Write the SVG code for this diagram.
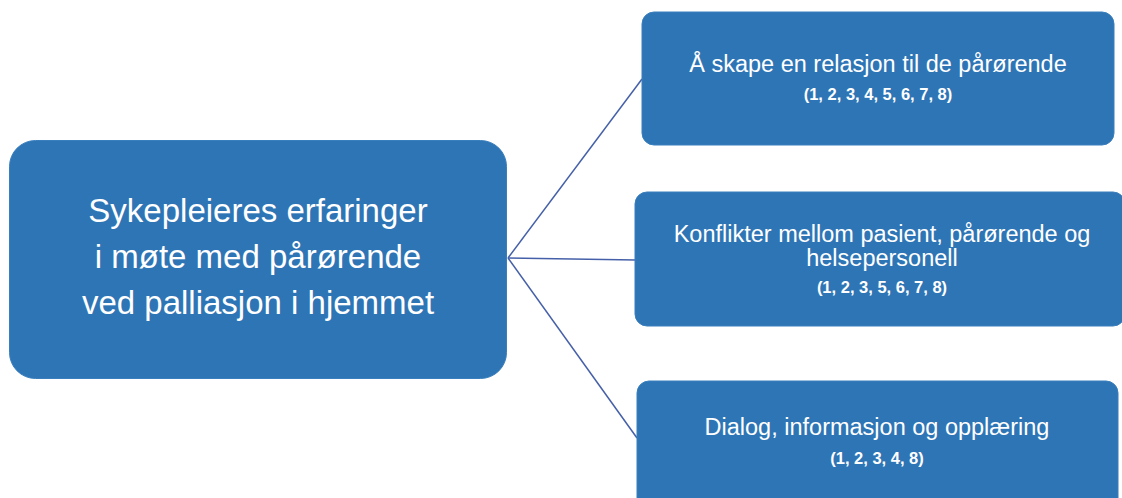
<svg xmlns="http://www.w3.org/2000/svg" width="1122" height="498" viewBox="0 0 1122 498">
<style>
.box{fill:#2E75B6;stroke:#3a7fbd;stroke-width:1}
.t{font-family:"Liberation Sans",Arial,sans-serif;fill:#ffffff;text-anchor:middle}
.big{font-size:33px}
.mid{font-size:23.5px}
.num{font-size:16.5px;font-weight:bold}
.conn{stroke:#4560a8;stroke-width:1.5;fill:none}
</style>
<rect width="1122" height="498" fill="#ffffff"/>
<g id="connectors">
<line class="conn" x1="508" y1="258" x2="642" y2="79"/>
<line class="conn" x1="508" y1="258" x2="636" y2="260"/>
<line class="conn" x1="508" y1="258" x2="637" y2="438"/>
</g>
<g id="node-main">
<rect class="box" x="9.5" y="140.5" width="497" height="238" rx="26"/>
<text class="t big" x="258" y="222">Sykepleieres erfaringer</text>
<text class="t big" x="258" y="268">i møte med pårørende</text>
<text class="t big" x="258" y="314">ved palliasjon i hjemmet</text>
</g>
<g id="node-relasjon">
<rect class="box" x="642" y="12" width="472" height="133" rx="12"/>
<text class="t mid" x="878" y="72">Å skape en relasjon til de pårørende</text>
<text class="t num" x="878" y="100">(1, 2, 3, 4, 5, 6, 7, 8)</text>
</g>
<g id="node-konflikter">
<rect class="box" x="635" y="192" width="490" height="134" rx="12"/>
<text class="t mid" x="882" y="242">Konflikter mellom pasient, pårørende og</text>
<text class="t mid" x="882" y="266">helsepersonell</text>
<text class="t num" x="882" y="293">(1, 2, 3, 5, 6, 7, 8)</text>
</g>
<g id="node-dialog">
<rect class="box" x="637" y="381" width="481" height="130" rx="12"/>
<text class="t mid" x="877" y="435">Dialog, informasjon og opplæring</text>
<text class="t num" x="877" y="464">(1, 2, 3, 4, 8)</text>
</g>
</svg>
